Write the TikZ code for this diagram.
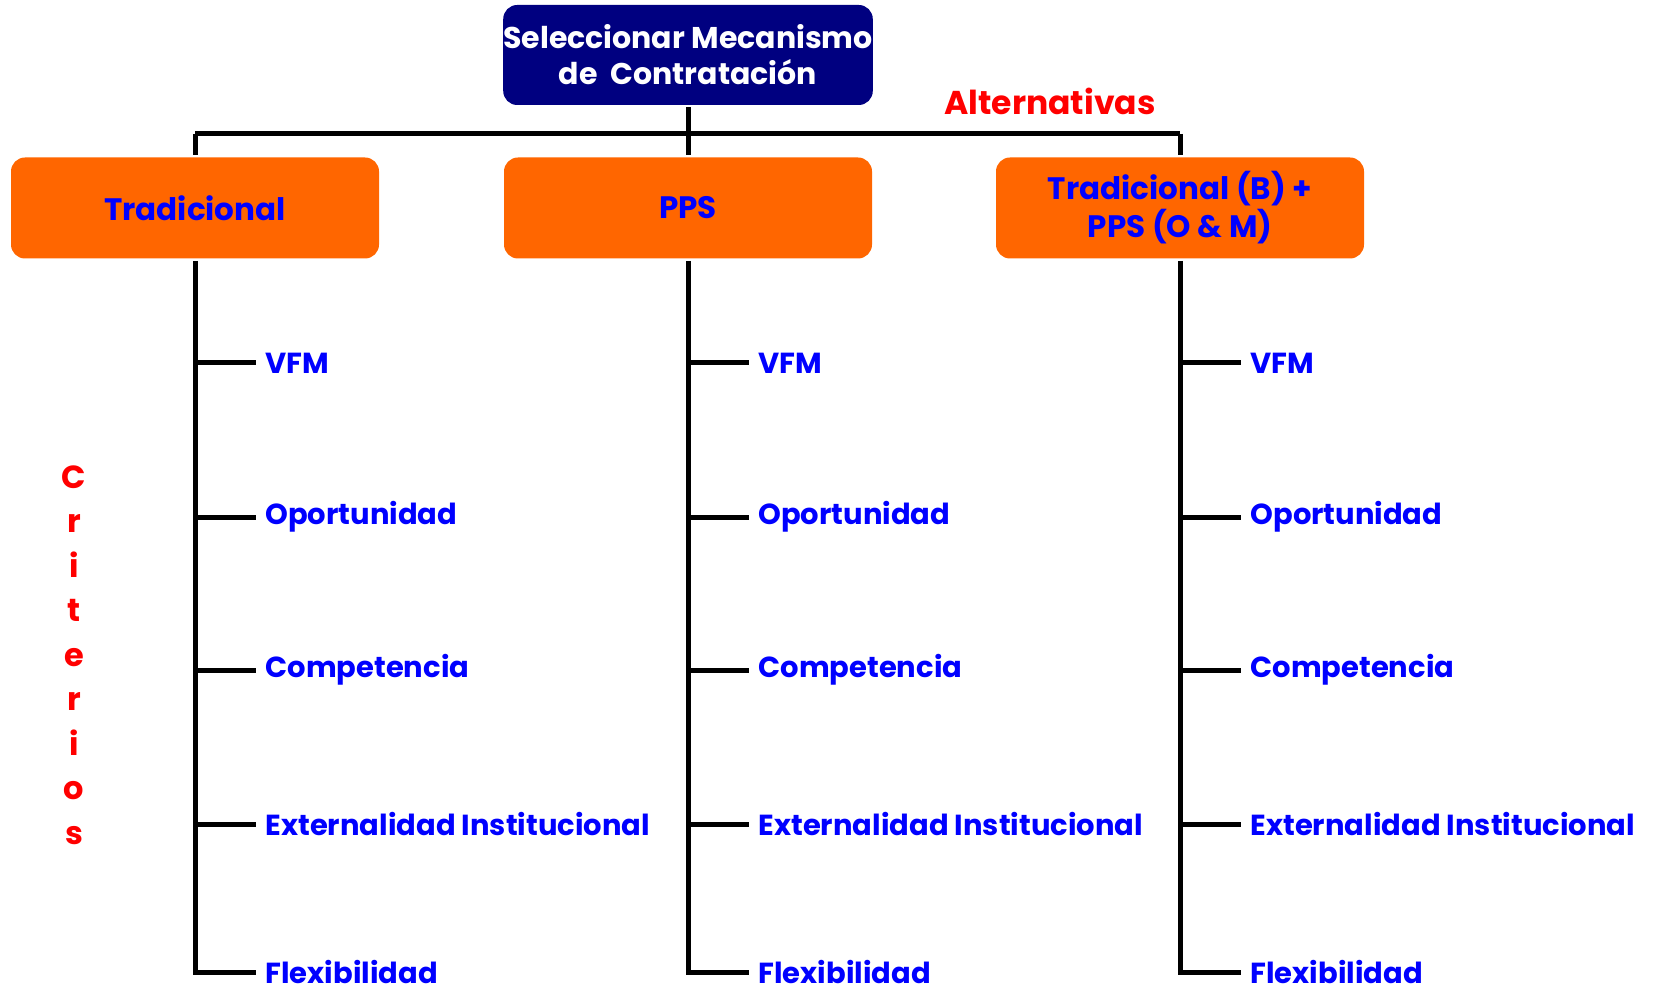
\documentclass[tikz,border=0pt]{standalone}
\usepackage{fontspec}
\setmainfont{Poppins}
\usetikzlibrary{positioning}
\definecolor{navybox}{RGB}{0,0,128}
\definecolor{altorange}{RGB}{255,102,0}
\definecolor{critblue}{RGB}{0,0,255}
\definecolor{labred}{RGB}{255,0,0}

\begin{document}
\begin{tikzpicture}[x=0.5pt,y=-0.5pt,line width=2.5pt,
			top node/.style={fill=navybox,rounded corners=7pt,minimum width=183.5pt,minimum height=50pt,inner xsep=0pt,text=white,font=\bfseries\fontsize{15}{18}\selectfont,align=center},
			alt node/.style={fill=altorange,rounded corners=7pt,minimum width=184pt,minimum height=50.5pt,text=critblue,font=\bfseries\fontsize{15.5}{19}\selectfont,align=center},
			crit node/.style={anchor=west,text=critblue,inner xsep=3.5pt,inner ysep=0pt,font=\bfseries\fontsize{14.5}{17}\selectfont}]
			\useasboundingbox (0,0) rectangle (1654,994);
			% junctions of the bar
			\coordinate (jL) at (195,134);
			\coordinate (jR) at (1180,134);
			\node[top node] (top) at (688,55) {Seleccionar Mecanismo\\de\ \ Contratación};
			\draw (top.south) -- (top.south |- jL);
			\draw (jL) -- (jR);
			\node[alt node] (trad) at (195,208) {Tradicional};
			\node[alt node] (pps) at (688,208) {PPS};
			\node[alt node] (mix) at (1180,208) {Tradicional (B) +\\PPS (O \& M)};
			\node[text=labred,font=\bfseries\fontsize{16.5}{20}\selectfont] (alt) at (1050,101) {Alternativas};
			\node[text=labred,align=center,font=\bfseries\fontsize{16}{22.25}\selectfont] (crit) at (74,655) {C\\r\\i\\t\\e\\r\\i\\o\\s};
			\foreach \col/\cx in {trad/195,pps/688,mix/1180}{
				\foreach \k/\cy/\txt in {1/363/VFM,2/517/Oportunidad,3/670/Competencia,4/824/Externalidad Institucional,5/972/Flexibilidad}
					\node[crit node] (\col-\k) at (\cx+61,\cy) {\txt};
				\draw (\col.north |- jL) -- (\col.north);
				\draw (\col.south) -- (\col.south |- \col-5.west) -- (\col-5.west);
				\foreach \k in {1,2,3,4}
					\draw (\col.south |- \col-\k.west) -- (\col-\k.west);
			}
		\end{tikzpicture}
\end{document}
